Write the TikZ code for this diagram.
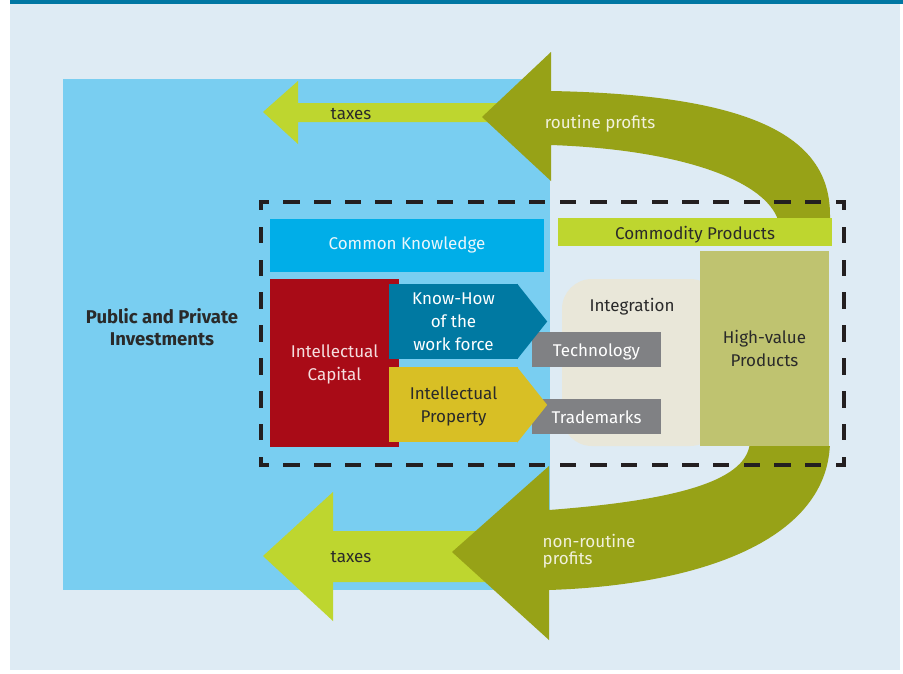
\documentclass[tikz,border=0pt]{standalone}
\usepackage{fontspec}
\setmainfont{Fira Sans}
\usepackage{xcolor}
\usetikzlibrary{positioning}
\definecolor{bgblue}{HTML}{DEEBF4}
\definecolor{ruleblue}{HTML}{0077A3}
\definecolor{areablue}{HTML}{79CEF1}
\definecolor{commoncyan}{HTML}{00AEE8}
\definecolor{taxgreen}{HTML}{BED62F}
\definecolor{profitolive}{HTML}{97A217}
\definecolor{hvkhaki}{HTML}{BFC370}
\definecolor{integbeige}{HTML}{E9E7D9}
\definecolor{techgrey}{HTML}{808184}
\definecolor{capred}{HTML}{A90B17}
\definecolor{howteal}{HTML}{0079A2}
\definecolor{propyellow}{HTML}{D8BF25}
\definecolor{inkdark}{HTML}{2A2A2A}
\definecolor{framedark}{HTML}{231F20}
\definecolor{lighttxt}{HTML}{EAF6FB}
\definecolor{pinktxt}{HTML}{F5DEDF}
\definecolor{creamtxt}{HTML}{F1F1DC}
\newcommand{\boxfont}{\fontsize{17}{23}\selectfont}

\begin{document}
\begin{tikzpicture}[x=1pt, y=-1pt,
  box/.style={rectangle, inner sep=0pt, align=center, font=\boxfont,
              text=inkdark},
  onebox/.style={box, text height=18pt, text depth=3pt},
  greybox/.style={onebox, fill=techgrey, text=white, minimum width=129pt,
                  minimum height=35pt},
  tag/.style={inner sep=0pt, align=center, font=\boxfont},
  frame/.style={draw=framedark, line width=4.5pt, line cap=rect,
                dash phase=6pt},
]
  \useasboundingbox (0,0) rectangle (903,673);
  % background and top rule
  \fill[white] (0,0) rectangle (903,673);
  \fill[bgblue] (10,0) rectangle (900,670);
  \fill[ruleblue] (10,0) rectangle (903,3.5);

  % public and private investments
  \fill[areablue] (63,79) rectangle (550,590);
  \node[tag, font=\fontsize{18.5}{21.5}\selectfont\bfseries, text=inkdark]
       (invest) at (162,327) {Public and Private\\Investments};

  % taxes arrows
  \fill[taxgreen] (263,112) -- (298,81) -- (298,103) -- (520,103)
       -- (520,122) -- (298,122) -- (298,144) -- cycle;
  \fill[taxgreen] (263,556) -- (333,492) -- (333,531) -- (500,531)
       -- (500,582) -- (333,582) -- (333,621) -- cycle;

  % profits loop
  \fill[profitolive] (482,117) -- (551,52) -- (551,91)
       .. controls (760,95) and (830,140) .. (830,215) -- (830,440)
       .. controls (830,540) and (700,585) .. (549,590)
       -- (549,640) -- (452,552) -- (549,466) -- (549,510)
       .. controls (680,500) and (750,480) .. (750,440)
       -- (780,230) .. controls (778,185) and (690,150) .. (551,145)
       -- (551,181) -- cycle;
  \fill[bgblue] (690,240) rectangle (838,446);

  % products
  \node[onebox, fill=commoncyan, text=lighttxt, minimum width=274pt,
        minimum height=53pt, text height=10pt] (common) at (407,245.5)
       {Common Knowledge};
  \node[onebox, fill=taxgreen, minimum width=274pt, minimum height=28pt]
       (commodity) at (695,232) {Commodity Products};
  \node[box, fill=integbeige, rounded corners=30pt, minimum width=158pt,
        minimum height=167pt] (integ) at (641,362.5) {};
  \node[tag, text=inkdark] (integlbl) at (632,306.5) {Integration};
  \node[box, fill=hvkhaki, minimum width=129pt, minimum height=195pt,
        text depth=-4pt] (highvalue) at (764.5,348.5) {High-value\\Products};
  \node[greybox] (tech) at (596.5,349) {Technology};
  \node[greybox, below=32pt of tech] (trade) {Trademarks};

  % intellectual capital
  \node[box, fill=capred, text=pinktxt, minimum width=129pt,
        minimum height=168pt, text depth=-0.5pt] (capital) at (334.5,363)
       {Intellectual\\Capital};
  \node[box, fill=howteal, text=white, minimum width=129pt,
        minimum height=75pt, text depth=-4pt] (knowhow) at (453.5,321.5)
       {Know-How\\of the\\work force};
  \fill[howteal] ([xshift=-1pt]knowhow.north east) -- ([xshift=29pt]knowhow.east)
       -- ([xshift=-1pt]knowhow.south east) -- cycle;
  \node[box, fill=propyellow, minimum width=129pt, minimum height=75pt,
        text depth=-2.5pt, below=8pt of knowhow] (property)
       {Intellectual\\Property};
  \fill[propyellow] ([xshift=-1pt]property.north east)
       -- ([xshift=29pt]property.east)
       -- ([xshift=-1pt]property.south east) -- cycle;

  % dashed frame
  \draw[frame, dash pattern=on 12pt off 18.68pt] (261,202) -- (844,202);
  \draw[frame, dash pattern=on 12pt off 18.68pt] (261,465) -- (844,465);
  \draw[frame, dash pattern=on 12pt off 20.88pt] (261,202) -- (261,465);
  \draw[frame, dash pattern=on 12pt off 20.88pt] (844,202) -- (844,465);

  % flow labels
  \node[tag, text=inkdark] (taxtop) at (351,114) {taxes};
  \node[tag, text=creamtxt] (routine) at (600,123.5) {routine profits};
  \node[tag, text=inkdark] (taxbot) at (351,557) {taxes};
  \node[tag, text=creamtxt, align=left, anchor=west,
        font=\fontsize{17}{17}\selectfont] (nonroutine) at (542.5,551.5)
       {non-routine\\profits};
\end{tikzpicture}
\end{document}
